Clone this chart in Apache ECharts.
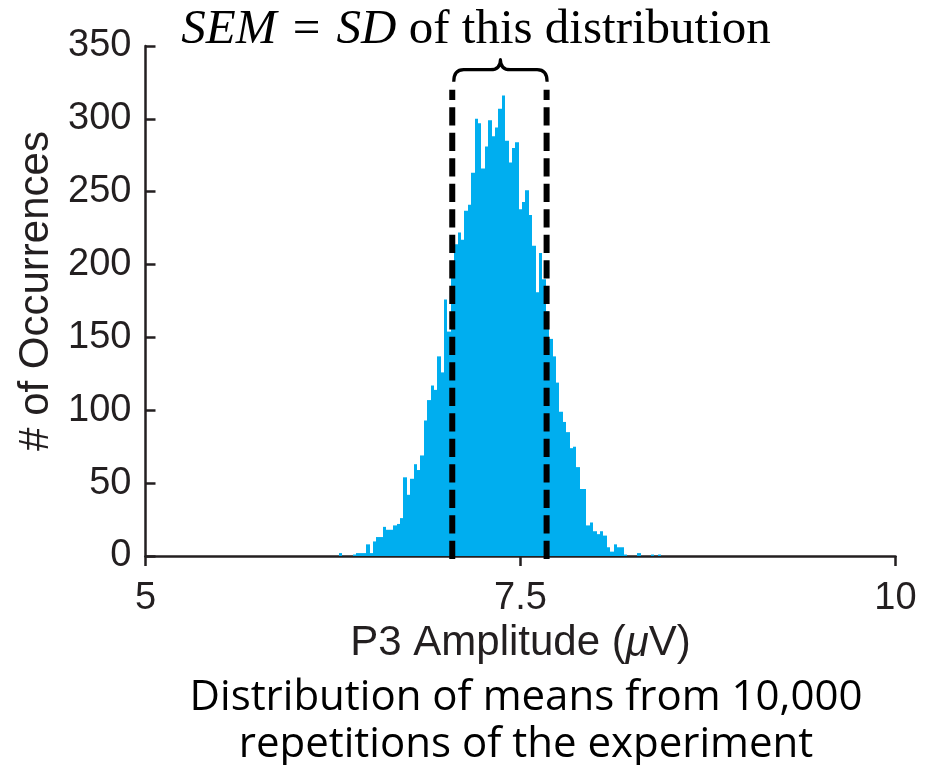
<!DOCTYPE html>
<html>
<head>
<meta charset="utf-8">
<script src="https://cdn.jsdelivr.net/npm/echarts@6/dist/echarts.min.js"></script>
<style>
  html, body { margin: 0; padding: 0; background: #ffffff; }
  #chart { width: 939px; height: 765px; }
</style>
</head>
<body>
<div id="chart"></div>
<script>
// Histogram of the mean P3 amplitude across 10,000 simulated repetitions
const binStart = 6.29;    // left edge of the first bin (µV)
const binWidth = 0.0226;  // width of each bin (µV)
const counts = [
  2, 0, 0, 0, 1, 2, 2, 2, 8, 2,
  10, 13, 13, 20, 18, 18, 21, 22, 26, 54,
  42, 53, 63, 59, 69, 93, 107, 117, 114, 137,
  126, 176, 154, 195, 214, 222, 217, 237, 241, 263,
  300, 297, 266, 281, 299, 288, 294, 307, 316, 285,
  270, 280, 284, 238, 243, 251, 234, 213, 181, 208,
  190, 168, 149, 137, 119, 99, 92, 85, 74, 75,
  61, 46, 46, 21, 23, 17, 15, 17, 14, 6,
  3, 8, 6, 6, 1, 0, 0, 0, 2, 0,
  0, 0, 1, 0, 1
];

// mean - SD and mean + SD of the distribution of means
const sdBounds = [7.045, 7.674];
const sdLineTop = 318;

// axis ranges
const xRange = [5, 10];
const xStep = 2.5;
const yRange = [0, 350];
const yStep = 50;

const titleText = '{i|SEM}{s| = }{i|SD} of this distribution';
const xName = 'P3 Amplitude ({i|\u03bc}V)';
const yName = '# of Occurrences';
const captionLines = ['Distribution of means from 10,000', 'repetitions of the experiment'];

const ink = '#231F20';
const barBlue = '#00AEEF';
const sans = 'Liberation Sans, Arial, Helvetica, sans-serif';
const serif = '"Liberation Serif", "Times New Roman", serif';

const binData = counts.map((c, i) => [binStart + i * binWidth, binStart + (i + 1) * binWidth, c]);

const chart = echarts.init(document.getElementById('chart'), null, { renderer: 'canvas' });

function sdLine(x) {
  return {
    type: 'line',
    data: [[x, 0], [x, sdLineTop]],
    symbol: 'none',
    clip: false,
    silent: true,
    z: 5,
    lineStyle: { color: '#000000', width: 6, type: [12.3, 13.2], cap: 'square' }
  };
}

chart.setOption({
  animation: false,
  backgroundColor: '#ffffff',
  grid: { left: 145.5, top: 46, width: 750, height: 510 },
  xAxis: {
    type: 'value',
    min: xRange[0], max: xRange[1], interval: xStep,
    axisLine: { show: true, lineStyle: { color: ink, width: 2.5 } },
    axisTick: { show: true, length: 10, lineStyle: { color: ink, width: 2.5 } },
    splitLine: { show: false },
    axisLabel: { fontSize: 38, fontFamily: sans, color: ink, margin: 24 },
    name: xName,
    nameLocation: 'middle',
    nameGap: 51,
    nameTextStyle: {
      fontSize: 42, fontFamily: sans, color: ink,
      rich: { i: { fontSize: 42, fontFamily: sans, color: ink, fontStyle: 'italic' } }
    }
  },
  yAxis: {
    type: 'value',
    min: yRange[0], max: yRange[1], interval: yStep,
    axisLine: { show: true, lineStyle: { color: ink, width: 2.5 } },
    axisTick: { show: true, inside: true, length: 10, lineStyle: { color: ink, width: 2.5 } },
    splitLine: { show: false },
    axisLabel: { fontSize: 38, fontFamily: sans, color: ink, margin: 14 },
    name: yName,
    nameLocation: 'middle',
    nameGap: 84,
    nameRotate: 90,
    nameTextStyle: { fontSize: 42, fontFamily: sans, color: ink, padding: [0, 0, 0, 20] }
  },
  graphic: [
    {
      type: 'text',
      x: 476, y: 6,
      style: {
        text: titleText,
        fill: '#000000',
        font: '49px ' + serif,
        align: 'center',
        verticalAlign: 'top',
        rich: {
          i: { font: 'italic 49px ' + serif, fill: '#000000' },
          s: { font: '49px ' + serif, fill: '#000000', padding: [0, 4, 0, 4] }
        }
      }
    },
    {
      type: 'text',
      x: 526, y: 675,
      style: {
        text: captionLines.join('\n'),
        fill: '#000000',
        font: '42px "Open Sans", sans-serif',
        lineHeight: 47,
        align: 'center',
        verticalAlign: 'top'
      }
    }
  ],
  series: [
    {
      type: 'custom',
      data: binData,
      encode: { x: [0, 1], y: 2 },
      silent: true,
      z: 2,
      renderItem: function (params, api) {
        const top = api.coord([api.value(0), api.value(2)]);
        const base = api.coord([api.value(1), 0]);
        const x0 = Math.round(top[0]), x1 = Math.round(base[0]);
        return {
          type: 'rect',
          shape: { x: x0, y: top[1], width: x1 - x0, height: base[1] - top[1] },
          style: { fill: barBlue }
        };
      }
    },
    sdLine(sdBounds[0]),
    sdLine(sdBounds[1]),
    {
      // curly brace spanning the ±SD interval
      type: 'custom',
      data: [[sdBounds[0], sdBounds[1], sdLineTop]],
      encode: { x: [0, 1], y: 2 },
      silent: true,
      clip: false,
      z: 6,
      renderItem: function (params, api) {
        const a = api.coord([api.value(0), api.value(2)]);
        const b = api.coord([api.value(1), api.value(2)]);
        const x0 = a[0] + 1.5, x1 = b[0] + 0.5, xm = (x0 + x1) / 2;
        const yb = a[1] - 11, ym = yb - 12, yc = yb - 22, r = 10;
        const d = 'M' + x0 + ' ' + yb +
          ' Q' + x0 + ' ' + ym + ' ' + (x0 + r) + ' ' + ym +
          ' L' + (xm - r) + ' ' + ym +
          ' Q' + xm + ' ' + ym + ' ' + xm + ' ' + yc +
          ' Q' + xm + ' ' + ym + ' ' + (xm + r) + ' ' + ym +
          ' L' + (x1 - r) + ' ' + ym +
          ' Q' + x1 + ' ' + ym + ' ' + x1 + ' ' + yb;
        return {
          type: 'path',
          shape: { pathData: d },
          style: { fill: null, stroke: '#000000', lineWidth: 3.2, lineJoin: 'round' }
        };
      }
    }
  ]
});
</script>
</body>
</html>
